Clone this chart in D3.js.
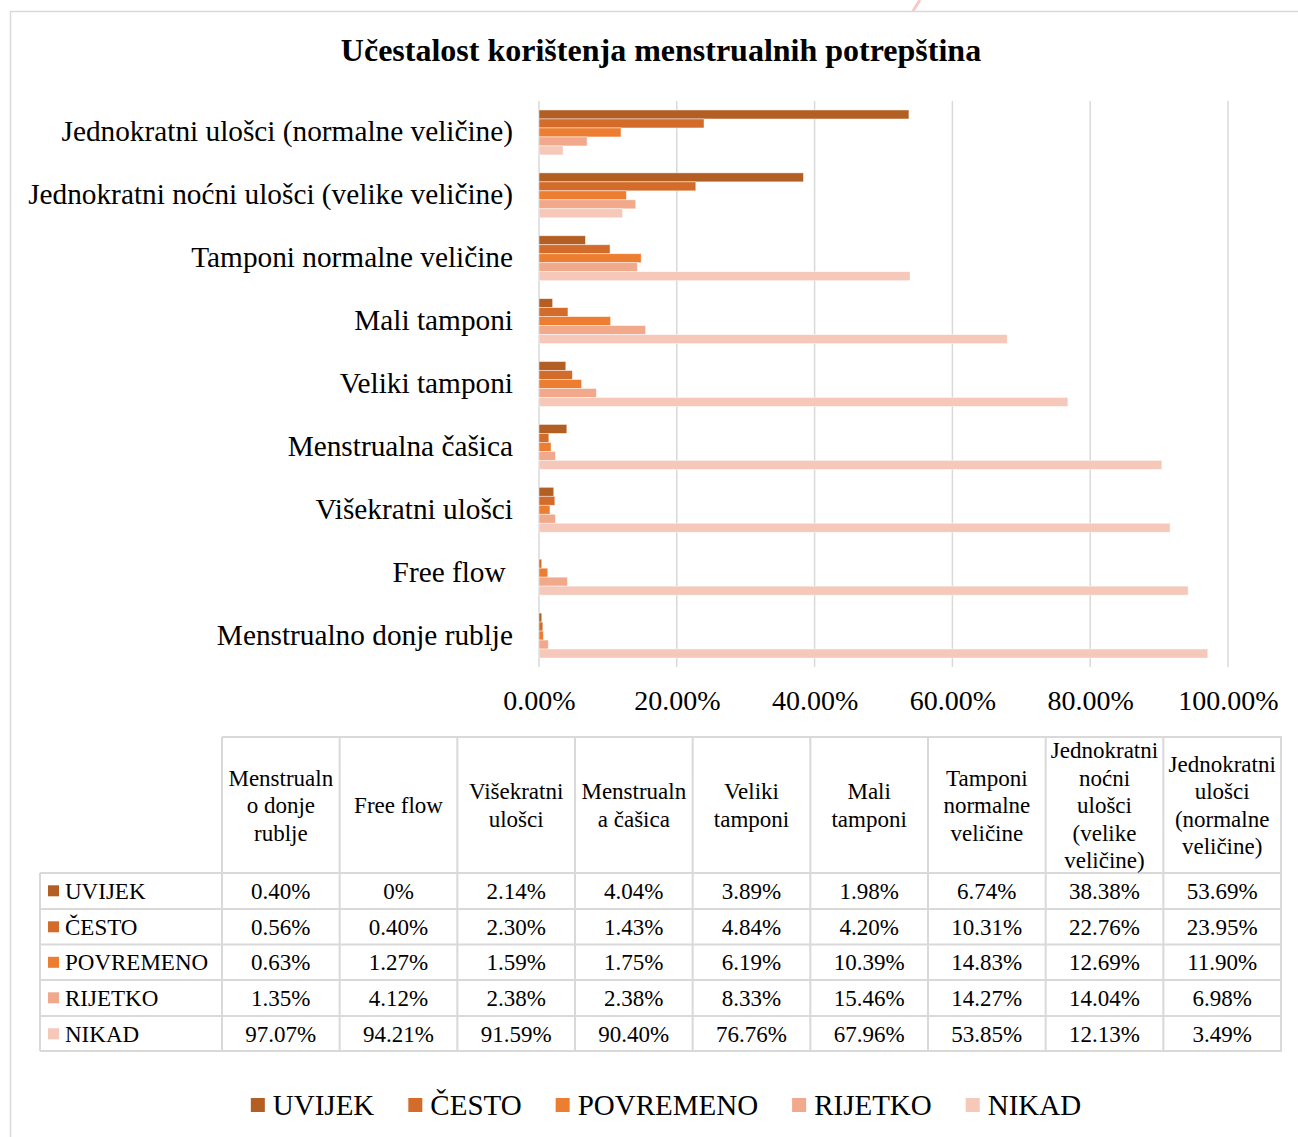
<!DOCTYPE html>
<html>
<head>
<meta charset="utf-8">
<script src="https://cdn.jsdelivr.net/npm/d3@7/dist/d3.min.js"></script>
<style>
  html, body { margin: 0; padding: 0; background: #fff; }
  svg { display: block; font-family: "Times New Roman", "Liberation Serif", serif; }
</style>
</head>
<body>
<svg id="chart" width="1298" height="1137"></svg>
<script>
// ---- data ----
const title = "Učestalost korištenja menstrualnih potrepština";
const categories = [
  "Menstrualno donje rublje",
  "Free flow",
  "Višekratni ulošci",
  "Menstrualna čašica",
  "Veliki tamponi",
  "Mali tamponi",
  "Tamponi normalne veličine",
  "Jednokratni noćni ulošci (velike veličine)",
  "Jednokratni ulošci (normalne veličine)"
];
const headerLines = [
  ["Menstrualn", "o donje", "rublje"],
  ["Free flow"],
  ["Višekratni", "ulošci"],
  ["Menstrualn", "a čašica"],
  ["Veliki", "tamponi"],
  ["Mali", "tamponi"],
  ["Tamponi", "normalne", "veličine"],
  ["Jednokratni", "noćni", "ulošci", "(velike", "veličine)"],
  ["Jednokratni", "ulošci", "(normalne", "veličine)"]
];
const seriesNames = ["UVIJEK", "ČESTO", "POVREMENO", "RIJETKO", "NIKAD"];
const uvijek    = [0.40, 0,    2.14, 4.04, 3.89, 1.98, 6.74, 38.38, 53.69];
const cesto     = [0.56, 0.40, 2.30, 1.43, 4.84, 4.20, 10.31, 22.76, 23.95];
const povremeno = [0.63, 1.27, 1.59, 1.75, 6.19, 10.39, 14.83, 12.69, 11.90];
const rijetko   = [1.35, 4.12, 2.38, 2.38, 8.33, 15.46, 14.27, 14.04, 6.98];
const nikad     = [97.07, 94.21, 91.59, 90.40, 76.76, 67.96, 53.85, 12.13, 3.49];
const tableLabels = [
  ["0.40%", "0%", "2.14%", "4.04%", "3.89%", "1.98%", "6.74%", "38.38%", "53.69%"],
  ["0.56%", "0.40%", "2.30%", "1.43%", "4.84%", "4.20%", "10.31%", "22.76%", "23.95%"],
  ["0.63%", "1.27%", "1.59%", "1.75%", "6.19%", "10.39%", "14.83%", "12.69%", "11.90%"],
  ["1.35%", "4.12%", "2.38%", "2.38%", "8.33%", "15.46%", "14.27%", "14.04%", "6.98%"],
  ["97.07%", "94.21%", "91.59%", "90.40%", "76.76%", "67.96%", "53.85%", "12.13%", "3.49%"]
];
const xTicks = [0, 20, 40, 60, 80, 100];
const colors = ["#B35E23", "#D36B2B", "#ED7D31", "#F1A88B", "#F5C8B9"];

const seriesValues = [uvijek, cesto, povremeno, rijetko, nikad];

// ---- drawing ----
const FONT = '"Times New Roman", "Liberation Serif", serif';
const svg = d3.select("#chart");
const grid = "#d9d9d9";

// outer chart border and decorative mark
svg.append("line").attr("x1", 10).attr("x2", 1298).attr("y1", 11.5).attr("y2", 11.5)
  .attr("stroke", grid).attr("stroke-width", 1.5);
svg.append("line").attr("x1", 10.5).attr("x2", 10.5).attr("y1", 11).attr("y2", 1137)
  .attr("stroke", grid).attr("stroke-width", 1.5);
svg.append("line").attr("x1", 920).attr("x2", 913).attr("y1", 0).attr("y2", 11)
  .attr("stroke", "#f6c9c9").attr("stroke-width", 3);

// title
svg.append("text").attr("x", 661).attr("y", 61).attr("text-anchor", "middle")
  .attr("font-size", 32).attr("font-weight", "bold").attr("fill", "#000").text(title);

// scales
const x = d3.scaleLinear().domain([0, 100]).range([539, 1228]);
const displayOrder = categories.slice().reverse();
const y0 = d3.scaleBand().domain(displayOrder).range([101, 667]).padding(0);
const y1 = d3.scaleBand().domain(seriesNames).range([0, y0.bandwidth()])
  .paddingInner(0).paddingOuter(1);

// gridlines
svg.append("g").selectAll("line").data(xTicks).join("line")
  .attr("x1", d => x(d)).attr("x2", d => x(d))
  .attr("y1", 101).attr("y2", 667)
  .attr("stroke", grid).attr("stroke-width", 1.5);

// bars
const groups = svg.append("g").selectAll("g").data(categories).join("g")
  .attr("transform", d => `translate(0,${y0(d)})`);
groups.selectAll("rect")
  .data((d, i) => seriesNames.map((s, j) => ({ s, v: seriesValues[j][i], j })))
  .join("rect")
  .attr("x", x(0))
  .attr("y", d => y1(d.s))
  .attr("width", d => x(d.v) - x(0))
  .attr("height", y1.bandwidth())
  .attr("fill", d => colors[d.j])
  .attr("stroke", "#fff").attr("stroke-opacity", 0.6).attr("stroke-width", 0.75);

// y axis labels
svg.append("g").selectAll("text").data(categories).join("text")
  .attr("x", 513)
  .attr("y", d => y0(d) + y0.bandwidth() / 2 + 9)
  .attr("text-anchor", "end")
  .attr("font-size", 29.3)
  .style("white-space", "pre")
  .text(d => d === "Free flow" ? "Free flow " : d);

// x axis labels
const xAxis = d3.axisBottom(x).tickValues(xTicks).tickSize(0)
  .tickFormat(d => d3.format(".2f")(d) + "%");
const xg = svg.append("g").attr("transform", "translate(0,690)").call(xAxis)
  .attr("font-family", FONT).attr("font-size", 28);
xg.select(".domain").remove();
xg.selectAll("text").attr("fill", "#000").attr("dy", "0.71em").attr("y", 0);

// ---- data table ----
const colX = d3.scaleBand().domain(d3.range(9)).range([222, 1281]);
const rowTop = [873, 909, 944.5, 980, 1016];
const rowH = 35.6;
const tbl = svg.append("g");
function hline(x1, x2, yy) {
  tbl.append("line").attr("x1", x1).attr("x2", x2).attr("y1", yy).attr("y2", yy)
    .attr("stroke", grid).attr("stroke-width", 2);
}
function vline(xx, y1v, y2v) {
  tbl.append("line").attr("x1", xx).attr("x2", xx).attr("y1", y1v).attr("y2", y2v)
    .attr("stroke", grid).attr("stroke-width", 2);
}
hline(222, 1282, 737);
rowTop.forEach(r => hline(40, 1282, r));
hline(40, 1282, 1051);
vline(40, 873, 1051);
d3.range(10).forEach(i => vline(222 + i * colX.bandwidth(), 737, 1051));

// header texts
headerLines.forEach((lines, i) => {
  const cx = colX(i) + colX.bandwidth() / 2;
  const lh = 27.5;
  const startY = 805 - (lines.length - 1) * lh / 2 + 8;
  const t = tbl.append("text").attr("text-anchor", "middle").attr("font-size", 23);
  lines.forEach((ln, k) => {
    t.append("tspan").attr("x", cx).attr("y", startY + k * lh).text(ln);
  });
});

// row labels and values
seriesNames.forEach((s, r) => {
  const cy = rowTop[r] + rowH / 2;
  tbl.append("rect").attr("x", 48).attr("y", cy - 5.5).attr("width", 11).attr("height", 11)
    .attr("fill", colors[r]);
  tbl.append("text").attr("x", 65).attr("y", cy + 8).attr("font-size", 23).text(s);
  tableLabels[r].forEach((v, c) => {
    tbl.append("text").attr("x", colX(c) + colX.bandwidth() / 2).attr("y", cy + 8)
      .attr("text-anchor", "middle").attr("font-size", 23).text(v);
  });
});

// ---- legend ----
const leg = svg.append("g");
let lx = 0;
const items = [];
seriesNames.forEach((s, i) => {
  const g = leg.append("g");
  g.append("rect").attr("x", 0).attr("y", -7).attr("width", 14).attr("height", 14).attr("fill", colors[i]);
  const t = g.append("text").attr("x", 22).attr("y", 10).attr("font-size", 29).text(s);
  const w = 22 + t.node().getComputedTextLength();
  items.push({ g, x: lx });
  lx += w + 34;
});
const totalW = lx - 34;
const startX = 666 - totalW / 2;
items.forEach(it => it.g.attr("transform", `translate(${startX + it.x},1105)`));
</script>
</body>
</html>
